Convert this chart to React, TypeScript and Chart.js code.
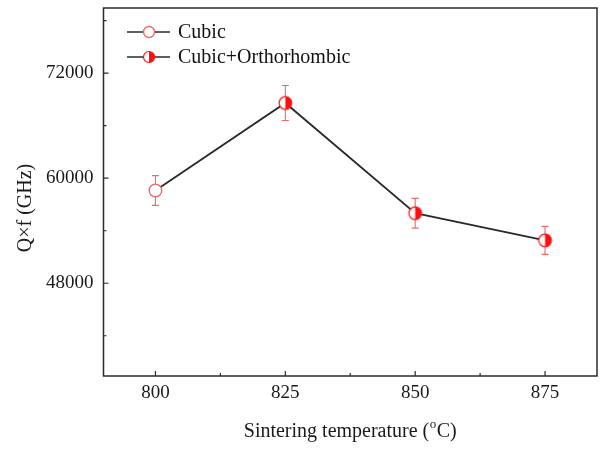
import React, { useEffect, useRef } from "react";
import { Chart, registerables } from "chart.js";

Chart.register(...registerables);

const xTickValues = [800, 825, 850, 875];
const xMinorTickValues = [812.5, 837.5, 862.5];
const yTickValues = [48000, 60000, 72000];
const yMinorTickValues = [42000, 54000, 66000, 78000];

const cubicTemps = [800];
const cubicValues = [58600];
const cubicErrors = [1700];

const orthoTemps = [825, 850, 875];
const orthoValues = [68600, 56000, 52900];
const orthoErrors = [2000, 1700, 1600];

const legendLabels = ["Cubic", "Cubic+Orthorhombic"];

const FONT = '"Liberation Serif", "Times New Roman", serif';
const RED = "#ff1010";
const RED_LIGHT = "#ec6a6a";
const LINE = "#2a2a2a";

function drawHalfMarker(ctx: CanvasRenderingContext2D, x: number, y: number, r: number) {
  ctx.save();
  ctx.beginPath();
  ctx.arc(x, y, r, 0, Math.PI * 2);
  ctx.fillStyle = "#ffffff";
  ctx.fill();
  ctx.beginPath();
  ctx.moveTo(x, y - r);
  ctx.arc(x, y, r, -Math.PI / 2, Math.PI / 2);
  ctx.closePath();
  ctx.fillStyle = RED;
  ctx.fill();
  ctx.beginPath();
  ctx.arc(x, y, r, 0, Math.PI * 2);
  ctx.strokeStyle = RED;
  ctx.lineWidth = 1.2;
  ctx.stroke();
  ctx.restore();
}

function drawOpenMarker(ctx: CanvasRenderingContext2D, x: number, y: number, r: number) {
  ctx.save();
  ctx.beginPath();
  ctx.arc(x, y, r, 0, Math.PI * 2);
  ctx.fillStyle = "#ffffff";
  ctx.fill();
  ctx.strokeStyle = RED_LIGHT;
  ctx.lineWidth = 1.4;
  ctx.stroke();
  ctx.restore();
}

function makeHalfMarkerImage(r: number) {
  const c = document.createElement("canvas");
  const s = Math.ceil(r * 2 + 4);
  c.width = s;
  c.height = s;
  const ctx = c.getContext("2d")!;
  drawHalfMarker(ctx, s / 2, s / 2, r);
  return c;
}

const framePlugin = {
  id: "frameTicks",
  beforeDatasetsDraw(chart: any) {
    const { ctx, scales } = chart;
    const xs = scales.x;
    const ys = scales.y;
    ctx.save();
    ctx.strokeStyle = RED_LIGHT;
    ctx.lineWidth = 1.1;
    const drawErr = (xv: number, yv: number, e: number) => {
      const px = xs.getPixelForValue(xv);
      const top = ys.getPixelForValue(yv + e);
      const bot = ys.getPixelForValue(yv - e);
      ctx.beginPath();
      ctx.moveTo(px, top);
      ctx.lineTo(px, bot);
      ctx.moveTo(px - 3.5, top);
      ctx.lineTo(px + 3.5, top);
      ctx.moveTo(px - 3.5, bot);
      ctx.lineTo(px + 3.5, bot);
      ctx.stroke();
    };
    cubicTemps.forEach((t, i) => drawErr(t, cubicValues[i], cubicErrors[i]));
    orthoTemps.forEach((t, i) => drawErr(t, orthoValues[i], orthoErrors[i]));
    ctx.restore();
  },
  afterDraw(chart: any) {
    const { ctx, chartArea, scales } = chart;
    const xs = scales.x;
    const ys = scales.y;
    ctx.save();
    ctx.strokeStyle = "#2b2b2b";
    ctx.lineWidth = 1.5;
    ctx.strokeRect(chartArea.left, chartArea.top, chartArea.right - chartArea.left, chartArea.bottom - chartArea.top);
    ctx.lineWidth = 1.2;
    ctx.beginPath();
    xTickValues.forEach((v) => {
      const p = xs.getPixelForValue(v);
      ctx.moveTo(p, chartArea.bottom);
      ctx.lineTo(p, chartArea.bottom - 5);
    });
    xMinorTickValues.forEach((v) => {
      const p = xs.getPixelForValue(v);
      ctx.moveTo(p, chartArea.bottom);
      ctx.lineTo(p, chartArea.bottom - 3);
    });
    yTickValues.forEach((v) => {
      const p = ys.getPixelForValue(v);
      ctx.moveTo(chartArea.left, p);
      ctx.lineTo(chartArea.left + 5, p);
    });
    yMinorTickValues.forEach((v) => {
      const p = ys.getPixelForValue(v);
      ctx.moveTo(chartArea.left, p);
      ctx.lineTo(chartArea.left + 3, p);
    });
    ctx.stroke();

    // axis titles
    ctx.fillStyle = "#1a1a1a";
    ctx.textBaseline = "middle";
    ctx.font = `20px ${FONT}`;
    const part1 = "Sintering temperature (";
    const part3 = "C)";
    const w1 = ctx.measureText(part1).width;
    const w3 = ctx.measureText(part3).width;
    ctx.font = `13px ${FONT}`;
    const w2 = ctx.measureText("o").width + 1;
    const total = w1 + w2 + w3;
    const cx = (chartArea.left + chartArea.right) / 2;
    const sx = cx - total / 2;
    const ty = 432;
    ctx.textAlign = "left";
    ctx.font = `20px ${FONT}`;
    ctx.fillText(part1, sx, ty);
    ctx.font = `13px ${FONT}`;
    ctx.fillText("o", sx + w1 + 0.5, ty - 7);
    ctx.font = `20px ${FONT}`;
    ctx.fillText(part3, sx + w1 + w2, ty);

    ctx.save();
    ctx.translate(26, 208);
    ctx.rotate(-Math.PI / 2);
    ctx.textAlign = "center";
    ctx.font = `20px ${FONT}`;
    ctx.fillText("Q\u00d7f (GHz)", 0, 0);
    ctx.restore();

    // legend
    const rows = [32, 57];
    rows.forEach((ry, i) => {
      ctx.strokeStyle = LINE;
      ctx.lineWidth = 1.6;
      ctx.beginPath();
      ctx.moveTo(127, ry);
      ctx.lineTo(170, ry);
      ctx.stroke();
      if (i === 0) drawOpenMarker(ctx, 149, ry, 5.5);
      else drawHalfMarker(ctx, 149, ry, 5.5);
      ctx.fillStyle = "#111111";
      ctx.font = `20px ${FONT}`;
      ctx.textAlign = "left";
      ctx.textBaseline = "middle";
      ctx.fillText(legendLabels[i], 178, ry + 1);
    });
    ctx.restore();
  },
};

export default function App() {
  const canvasRef = useRef<HTMLCanvasElement | null>(null);

  useEffect(() => {
    const canvas = canvasRef.current;
    if (!canvas) return;
    const halfImg = makeHalfMarkerImage(6.3);
    const allTemps = [...cubicTemps, ...orthoTemps];
    const allValues = [...cubicValues, ...orthoValues];
    const chart = new Chart(canvas, {
      type: "scatter",
      data: {
        datasets: [
          {
            label: "line",
            data: allTemps.map((t, i) => ({ x: t, y: allValues[i] })),
            showLine: true,
            borderColor: LINE,
            borderWidth: 1.8,
            pointRadius: 0,
            order: 3,
          },
          {
            label: legendLabels[0],
            data: cubicTemps.map((t, i) => ({ x: t, y: cubicValues[i] })),
            pointStyle: "circle",
            pointRadius: 6.3,
            backgroundColor: "#ffffff",
            borderColor: RED_LIGHT,
            borderWidth: 1.4,
            order: 1,
          },
          {
            label: legendLabels[1],
            data: orthoTemps.map((t, i) => ({ x: t, y: orthoValues[i] })),
            pointStyle: halfImg as any,
            pointRadius: 6.3,
            order: 1,
          },
        ],
      },
      options: {
        responsive: false,
        animation: false,
        devicePixelRatio: 1,
        layout: { autoPadding: false, padding: { left: 0, right: 3, top: 8, bottom: 0 } },
        plugins: { legend: { display: false }, tooltip: { enabled: false } },
        scales: {
          x: {
            type: "linear",
            min: 790,
            max: 885,
            grid: { display: false, drawTicks: false },
            border: { display: false },
            afterBuildTicks: (s: any) => {
              s.ticks = xTickValues.map((v) => ({ value: v }));
            },
            afterFit: (s: any) => {
              s.height = 73;
              s.paddingLeft = 0;
              s.paddingRight = 0;
            },
            ticks: {
              padding: 6,
              color: "#1a1a1a",
              font: { family: FONT, size: 19 },
              maxRotation: 0,
              autoSkip: false,
            },
          },
          y: {
            type: "linear",
            min: 37400,
            max: 79450,
            grid: { display: false, drawTicks: false },
            border: { display: false },
            afterBuildTicks: (s: any) => {
              s.ticks = yTickValues.map((v) => ({ value: v }));
            },
            afterFit: (s: any) => {
              s.width = 103.5;
              s.paddingTop = 0;
              s.paddingBottom = 0;
            },
            ticks: {
              padding: 10,
              color: "#1a1a1a",
              font: { family: FONT, size: 19 },
              callback: (v: any) => String(v),
            },
          },
        },
      },
      plugins: [framePlugin],
    });
    return () => chart.destroy();
  }, []);

  return (
    <div style={{ position: "fixed", left: 0, top: 0, width: 600, height: 449, background: "#ffffff" }}>
      <canvas ref={canvasRef} width={600} height={449} />
    </div>
  );
}
